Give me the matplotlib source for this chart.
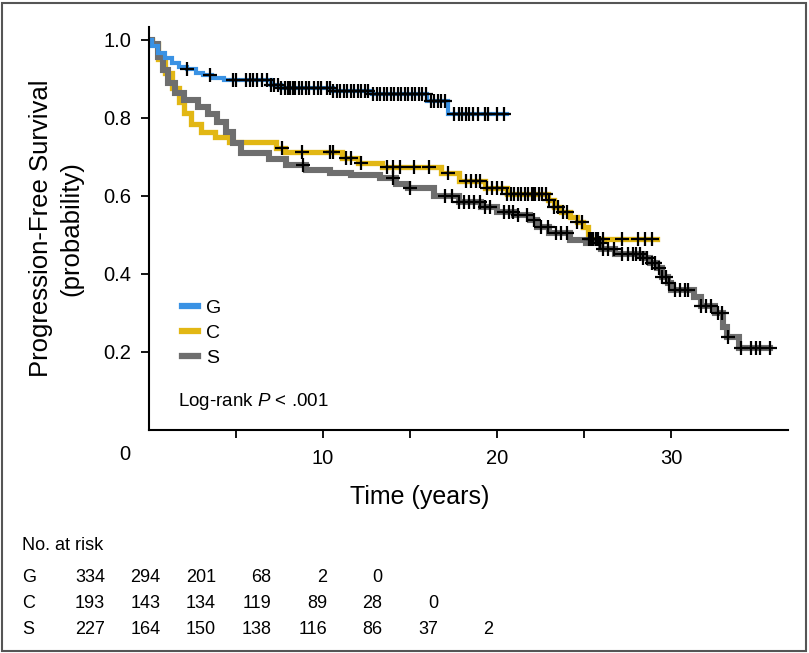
import numpy as np
import matplotlib
matplotlib.use("Agg")
import matplotlib.pyplot as plt
from matplotlib.lines import Line2D
from matplotlib.patches import Rectangle

# ---------------------------------------------------------------------------
# Data
# ---------------------------------------------------------------------------

G_T = [0, 0.2, 0.5, 0.9, 1.3, 1.7, 2.2, 2.7, 3.1, 3.6, 4.3, 7.0, 7.6, 10.6, 12.8, 16.0, 17.2]
G_S = [1.0, 0.985, 0.967, 0.955, 0.94, 0.93, 0.925, 0.915, 0.91, 0.903, 0.897, 0.885, 0.877,
       0.868, 0.862, 0.843, 0.81]
G_END = 20.6
G_CENS = [2.2, 3.5, 4.8, 5.0, 5.6, 5.8, 6.0, 6.2, 6.5, 6.8, 7.0, 7.2, 7.4, 7.6, 7.8, 8.0, 8.1,
          8.3, 8.4, 8.6, 8.8, 9.0, 9.2, 9.5, 9.7, 9.9, 10.2, 10.4, 10.6, 10.8, 11.0, 11.2, 11.4,
          11.6, 11.8, 12.0, 12.2, 12.4, 12.6, 12.9, 13.1, 13.3, 13.5, 13.7, 13.9, 14.1, 14.3,
          14.5, 14.7, 14.9, 15.1, 15.3, 15.5, 15.7, 15.9, 16.2, 16.4, 16.6, 16.8, 17.0, 17.5,
          17.8, 18.0, 18.2, 18.4, 18.6, 18.9, 19.3, 19.5, 20.0, 20.4]

C_T = [0, 0.2, 0.5, 0.9, 1.3, 1.7, 2.0, 2.4, 3.0, 3.8, 4.6, 7.3, 7.8, 11.1, 12.0, 13.4, 16.8,
       17.8, 19.3, 20.6, 22.9, 23.3, 23.7, 24.2, 24.6, 24.95, 25.2]
C_S = [1.0, 0.99, 0.95, 0.915, 0.877, 0.84, 0.812, 0.785, 0.765, 0.75, 0.738, 0.724, 0.713,
       0.697, 0.684, 0.674, 0.66, 0.638, 0.62, 0.606, 0.59, 0.573, 0.558, 0.546, 0.533, 0.52,
       0.49]
C_END = 29.2
C_CENS = [7.65, 8.8, 10.4, 10.6, 11.3, 11.6, 12.2, 13.7, 14.0, 14.4, 15.2, 16.1, 17.2, 18.2,
          18.5, 18.8, 19.0, 19.4, 19.7, 20.0, 20.3, 20.6, 20.8, 21.0, 21.2, 21.4, 21.6, 21.8,
          22.0, 22.1, 22.2, 22.4, 22.6, 22.8, 23.0, 23.3, 23.5, 23.8, 24.0, 24.6, 24.9, 25.3,
          25.4, 25.5, 25.7, 25.8, 26.1, 27.2, 28.1, 28.5, 28.9]

S_T = [0, 0.2, 0.5, 0.8, 1.1, 1.5, 2.0, 2.8, 3.4, 3.9, 4.4, 4.8, 5.3, 6.9, 7.9, 9.0, 10.4, 11.6,
       13.3, 14.2, 14.9, 16.4, 17.8, 19.1, 20.0, 21.0, 21.9, 22.3, 23.0, 24.2, 25.1, 26.0, 26.8,
       28.4, 28.8, 29.2, 29.5, 29.8, 30.0, 31.3, 31.7, 32.5, 33.0, 33.2, 33.9]
S_S = [1.0, 0.99, 0.957, 0.923, 0.89, 0.865, 0.845, 0.828, 0.81, 0.79, 0.765, 0.736, 0.71,
       0.695, 0.68, 0.667, 0.66, 0.654, 0.646, 0.63, 0.62, 0.6, 0.585, 0.572, 0.558, 0.55, 0.538,
       0.52, 0.505, 0.488, 0.479, 0.465, 0.452, 0.44, 0.428, 0.415, 0.392, 0.377, 0.36, 0.342,
       0.318, 0.3, 0.264, 0.238, 0.21]
S_END = 35.7
S_CENS = [8.85, 14.0, 15.0, 17.0, 17.4, 17.8, 18.1, 18.4, 18.7, 19.0, 19.3, 19.6, 20.4, 20.7,
          20.9, 21.2, 21.7, 22.1, 22.5, 22.9, 23.4, 23.7, 24.0, 25.9, 26.1, 26.4, 26.7, 27.2,
          27.5, 27.8, 28.0, 28.2, 28.4, 28.6, 28.9, 29.1, 29.3, 29.5, 29.7, 29.9, 30.2, 30.5,
          30.8, 31.0, 31.7, 32.0, 32.3, 32.7, 32.9, 33.3, 34.0, 34.6, 34.9, 35.1, 35.7]

RISK_TIMES = [0, 5, 10, 15, 20, 25, 30, 35]
RISK_G = ["334", "294", "201", "68", "2", "0", "", ""]
RISK_C = ["193", "143", "134", "119", "89", "28", "0", ""]
RISK_S = ["227", "164", "150", "138", "116", "86", "37", "2"]

GROUPS = ["G", "C", "S"]
COLORS = {"G": "#3a92e4", "C": "#e2b714", "S": "#6e6e6e"}
WIDTHS = {"G": 3.0, "C": 3.8, "S": 4.4}

plt.rcParams.update({
    "font.family": ["Liberation Sans", "DejaVu Sans"],
    "mathtext.fontset": "custom",
    "mathtext.it": "Liberation Sans:italic",
    "mathtext.rm": "Liberation Sans",
})


def step_value(times, surv, t):
    idx = np.searchsorted(np.asarray(times), t, side="right") - 1
    return np.asarray(surv)[idx]


def main():
    W, H = 809, 653
    fig = plt.figure(figsize=(W / 100, H / 100), dpi=100)
    fig.patch.set_facecolor("white")
    fig.patches.append(Rectangle((2 / W, 2 / H), 1 - 5 / W, 1 - 5 / H, transform=fig.transFigure,
                                 fill=False, edgecolor="#555555", linewidth=1.5))

    ax = fig.add_axes([149 / W, 1 - 430 / H, 639 / W, 403 / H])
    ax.set_xlim(0, 36.72)
    ax.set_ylim(0, 1.0333)

    data = {
        "G": (G_T, G_S, G_END, G_CENS),
        "C": (C_T, C_S, C_END, C_CENS),
        "S": (S_T, S_S, S_END, S_CENS),
    }
    for g in ["C", "S", "G"]:
        t, s, end, cens = data[g]
        ax.step(list(t) + [end], list(s) + [s[-1]], where="post", color=COLORS[g],
                linewidth=WIDTHS[g], solid_joinstyle="miter", zorder=2)
    for g in ["C", "S", "G"]:
        t, s, end, cens = data[g]
        cy = step_value(t, s, np.asarray(cens))
        ax.plot(cens, cy, linestyle="none", marker="+", markersize=10, markeredgewidth=1.6,
                color="black", zorder=3)

    for side in ["top", "right"]:
        ax.spines[side].set_visible(False)
    for side in ["left", "bottom"]:
        ax.spines[side].set_linewidth(1.5)

    ax.set_yticks([0.2, 0.4, 0.6, 0.8, 1.0])
    ax.set_yticklabels(["0.2", "0.4", "0.6", "0.8", "1.0"])
    ax.set_xticks([5, 10, 15, 20, 25, 30])
    ax.set_xticklabels(["", "10", "", "20", "", "30"])
    ax.tick_params(axis="both", direction="out", length=6, width=1.3, labelsize=14.5)
    ax.tick_params(axis="y", pad=7)
    ax.tick_params(axis="x", pad=8)
    fig.text(125 / W, 1 - 455 / H, "0", ha="center", va="center", fontsize=14.5)

    ax.set_ylabel("Progression-Free Survival\n(probability)", fontsize=18.5, linespacing=1.3)
    ax.yaxis.set_label_coords(-0.103, 0.5)
    fig.text(420 / W, 1 - 497 / H, "Time (years)", ha="center", va="center", fontsize=18)

    handles = [Line2D([], [], color=COLORS[g], linewidth=4.5) for g in GROUPS]
    ax.legend(handles, GROUPS, loc="upper left", bbox_to_anchor=(0.024, 0.367), frameon=False,
              handlelength=0.85, handletextpad=0.4, labelspacing=0.38, fontsize=14)
    ax.text(178 / W, 1 - 401 / H, r"Log-rank $P$ < .001", transform=fig.transFigure,
            ha="left", va="center", fontsize=13.5)

    # Number-at-risk table
    fig.text(22 / W, 1 - 545 / H, "No. at risk", ha="left", va="center", fontsize=13)
    rows = [("G", RISK_G, 577), ("C", RISK_C, 603), ("S", RISK_S, 629)]
    for name, vals, ypx in rows:
        fig.text(22 / W, 1 - ypx / H, name, ha="left", va="center", fontsize=13)
        for i, v in enumerate(vals):
            xpx = 105 + 55.5 * (RISK_TIMES[i] / 5)
            fig.text(xpx / W, 1 - ypx / H, v, ha="right", va="center", fontsize=13)

    fig.savefig("out.png", dpi=100)
    plt.close(fig)


if __name__ == "__main__":
    main()
